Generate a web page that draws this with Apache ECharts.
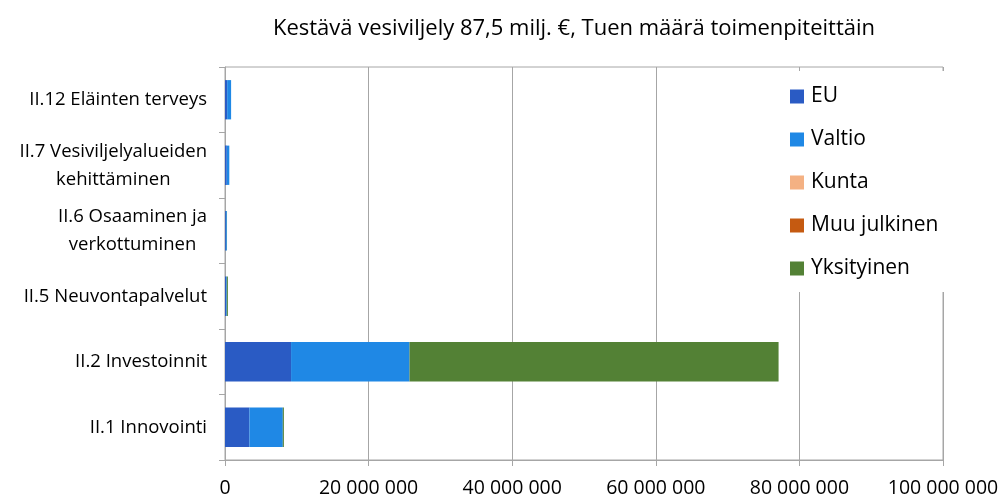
<!DOCTYPE html>
<html><head><meta charset="utf-8">
<script src="https://cdn.jsdelivr.net/npm/echarts@6/dist/echarts.min.js"></script>
<style>html,body{margin:0;padding:0;background:#fff}#c{width:1003px;height:498px}</style>
</head><body><div id="c"></div>
<script>
const categories = ["II.1 Innovointi", "II.2 Investoinnit", "II.5 Neuvontapalvelut", "II.6 Osaaminen ja\nverkottuminen", "II.7 Vesiviljelyalueiden\nkehittäminen", "II.12 Eläinten terveys"];
const seriesNames = ["EU", "Valtio", "Kunta", "Muu julkinen", "Yksityinen"];
const eu = [3400000, 9200000, 150000, 120000, 250000, 300000];
const valtio = [4650000, 16500000, 100000, 140000, 350000, 550000];
const kunta = [0, 0, 0, 0, 0, 0];
const muuJulkinen = [0, 0, 0, 0, 0, 0];
const yksityinen = [150000, 51400000, 150000, 20000, 0, 0];
const xTicks = [0, 20000000, 40000000, 60000000, 80000000, 100000000];
const colors = ["#2a5bc4", "#1f88e5", "#f4b183", "#c55a11", "#538135"];
const values = [eu, valtio, kunta, muuJulkinen, yksityinen];
const FONT = "Open Sans";
function fmt(v){ return String(v).replace(/\B(?=(\d{3})+(?!\d))/g, " "); }
const chart = echarts.init(document.getElementById('c'), null, {renderer:'canvas'});
chart.setOption({
  animation:false,
  textStyle:{fontFamily:FONT},
  title:{text:"Kestävä vesiviljely 87,5 milj. €, Tuen määrä toimenpiteittäin", left:569, textAlign:'center', top:13,
    textStyle:{fontFamily:FONT, fontSize:22, fontWeight:'normal', color:'#000'}},
  grid:{left:225, right:60, top:67, bottom:38, containLabel:false, show:true, borderColor:'#a6a6a6', borderWidth:1},
  legend:{orient:'vertical', left:776, top:71, padding:[15,12,13,14], backgroundColor:'#fff',
    itemWidth:14, itemHeight:14, itemGap:22, icon:'rect',
    textStyle:{fontFamily:FONT, fontSize:21, color:'#000', padding:[0,0,0,2]}, data:seriesNames},
  xAxis:{type:'value', min:0, max:100000000, interval:20000000,
    axisLine:{show:true, lineStyle:{color:'#a6a6a6'}},
    axisTick:{show:true, length:6, lineStyle:{color:'#a6a6a6'}},
    splitLine:{show:true, lineStyle:{color:'#a6a6a6', width:1}},
    axisLabel:{fontFamily:FONT, fontSize:19.5, color:'#000', margin:18, formatter:fmt}},
  yAxis:{type:'category', data:categories,
    axisLine:{show:true, lineStyle:{color:'#a6a6a6'}},
    axisTick:{show:true, length:6, lineStyle:{color:'#a6a6a6'}},
    axisLabel:{fontFamily:FONT, fontSize:18.5, color:'#000', margin:18, lineHeight:28,
      formatter:function(v){ return v.indexOf('\n')>=0 ? v.split('\n').map(s=>'{c|'+s+'}').join('\n') : v; },
      rich:{c:{align:'center', fontFamily:FONT, fontSize:18.5, color:'#000', lineHeight:28}}}},
  series: seriesNames.map((n,i)=>({name:n, type:'bar', stack:'t', barWidth:'60%', data:values[i],
    itemStyle:{color:colors[i]}}))
});
</script></body></html>
